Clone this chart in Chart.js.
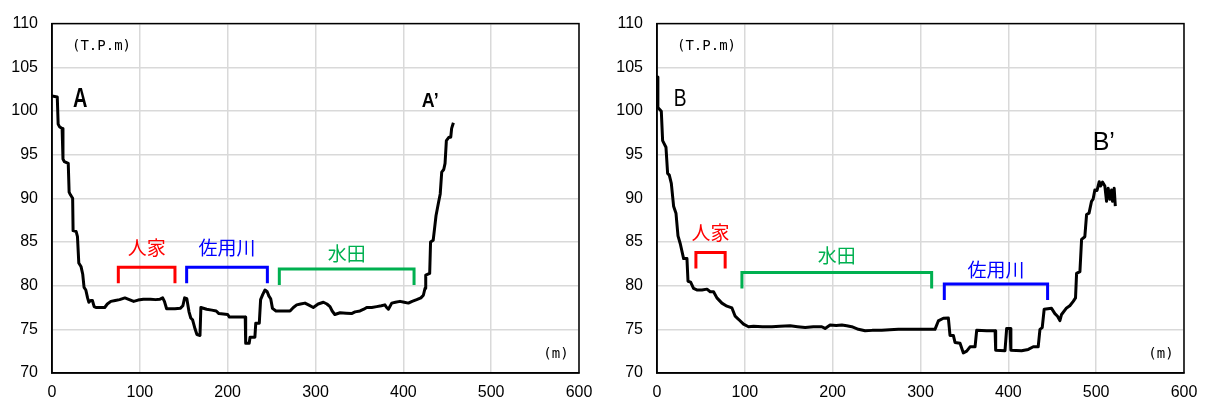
<!DOCTYPE html>
<html>
<head>
<meta charset="utf-8">
<script src="https://cdn.jsdelivr.net/npm/chart.js@4.4.1/dist/chart.umd.min.js"></script>
<style>
  html, body { margin: 0; padding: 0; background: #fff; }
  .wrap { position: absolute; top: 0; width: 605px; height: 408px; }
</style>
</head>
<body>
<div class="wrap" style="left:0"><canvas id="chartA" width="605" height="408"></canvas></div>
<div class="wrap" style="left:605px"><canvas id="chartB" width="605" height="408"></canvas></div>
<script>
// profile A - A'  (distance m, elevation T.P.m)
const distA = [0, 6, 7, 8.5, 11.5, 12.5, 14, 18.5, 19.5, 21, 23.5, 24, 27.5, 29, 30.5, 33, 35, 36.5, 38.5, 40.5,
  42, 44, 46, 48, 50, 60, 63, 67, 72, 77, 83, 88, 93, 98, 104, 112, 118, 123, 126, 128,
  130.5, 140, 146, 149, 151, 153.5, 156, 158, 160, 163, 165, 168.5, 169.5, 176, 182, 187, 190, 200, 202, 220,
  220.5, 224.5, 225.5, 231, 232, 236, 237.5, 240, 242.5, 245, 247, 249, 251, 255, 262, 271, 274.8, 278.6, 283, 288,
  292, 297.5, 303, 309, 313, 316.5, 319, 322, 328, 335, 341, 345, 350.7, 355, 358.3, 364, 369.7, 375, 379, 381,
  383, 386.8, 391, 396.2, 401, 405.7, 410, 415.2, 420, 422.8, 424.7, 425.5, 430, 431, 434, 435.5, 437.2, 440, 442, 443.7,
  446, 447.5, 449, 452, 454, 455, 457];
const elevA = [101.7, 101.6, 98.5, 98.2, 98.0, 94.5, 94.2, 94.0, 90.7, 90.4, 90.0, 86.3, 86.2, 85.6, 82.6, 82.2, 81.3, 79.8, 79.5, 78.6,
  78.1, 78.3, 78.3, 77.6, 77.5, 77.5, 77.9, 78.2, 78.3, 78.4, 78.6, 78.4, 78.2, 78.35, 78.45, 78.45, 78.4, 78.45, 78.6, 78.2,
  77.35, 77.35, 77.4, 77.7, 78.6, 78.5, 77.0, 76.3, 76.1, 75.0, 74.4, 74.3, 77.5, 77.3, 77.2, 77.1, 76.8, 76.7, 76.4, 76.4,
  73.4, 73.4, 74.1, 74.1, 75.7, 75.7, 78.4, 79.0, 79.5, 79.3, 78.8, 78.5, 77.4, 77.1, 77.1, 77.1, 77.5, 77.8, 77.9, 78.0,
  77.8, 77.5, 77.9, 78.1, 77.9, 77.6, 77.1, 76.7, 76.9, 76.85, 76.8, 77.0, 77.1, 77.3, 77.5, 77.5, 77.6, 77.7, 77.8, 77.5,
  77.3, 78.0, 78.1, 78.2, 78.1, 78.0, 78.2, 78.4, 78.6, 78.9, 79.7, 81.2, 81.4, 85.0, 85.2, 86.5, 88.0, 89.5, 90.5, 93.0,
  93.3, 94.0, 96.6, 97.0, 97.0, 98.0, 98.65];

// profile B - B'
const distB = [0.5, 1, 4.9, 6.4, 10.2, 12.1, 14, 16.3, 18.9, 21.6, 23.9, 26.5, 30.3, 34.1, 35.3, 38.3, 41.6, 46, 51.2, 56.9,
  60.6, 64.4, 68.2, 73.9, 79.6, 85.3, 89, 92.8, 98.5, 104.2, 109.9, 120, 130.8, 140, 151.6, 160, 168.7, 178, 187.6, 191.4,
  197.1, 204, 210.4, 216, 221.7, 229.3, 236.9, 245, 255.8, 265, 274.8, 282.4, 300, 316.5, 320.3, 326, 331.7, 333.6, 337.4, 339.3,
  345, 348.8, 352.6, 356.4, 362.1, 364, 375.4, 384.9, 385.6, 396.2, 398.1, 401.9, 402.9, 415.1, 422.7, 428.4, 434, 436, 438.6, 440.8,
  449.2, 453, 456, 458.7, 460.6, 466.3, 470, 473.9, 476.5, 477.7, 481.5, 483.4, 487.1, 489.1, 491.9, 494.7, 496.5, 498.5, 501, 503.5,
  505, 507.2, 509.9, 511.8, 513.7, 515.6, 517.5, 518.6, 520.5, 521.8];
const elevB = [103.9, 100.4, 99.96, 96.6, 95.85, 92.85, 92.65, 91.7, 89.1, 88.3, 85.7, 84.8, 83.1, 83.1, 80.5, 80.4, 79.7, 79.5, 79.5, 79.6,
  79.3, 79.3, 78.6, 78.0, 77.65, 77.45, 76.5, 76.15, 75.6, 75.3, 75.35, 75.3, 75.3, 75.35, 75.4, 75.3, 75.2, 75.3, 75.3, 75.1,
  75.5, 75.45, 75.5, 75.4, 75.3, 75.0, 74.84, 74.88, 74.9, 74.95, 75.0, 75.0, 75.0, 75.0, 75.96, 76.27, 76.3, 74.3, 74.3, 73.5,
  73.4, 72.3, 72.5, 73.0, 73.0, 74.9, 74.85, 74.85, 72.6, 72.55, 75.1, 75.1, 72.6, 72.55, 72.7, 73.0, 73.0, 75.0, 75.2, 77.3,
  77.4, 76.8, 76.5, 76.0, 76.7, 77.45, 77.7, 78.2, 78.6, 81.4, 81.6, 85.3, 85.6, 88.15, 88.3, 89.65, 89.9, 90.96, 90.9, 91.9,
  91.4, 91.85, 91.4, 89.65, 91.15, 89.9, 90.96, 89.65, 91.15, 89.1];

// axes
const xTicks = [0, 100, 200, 300, 400, 500, 600];
const yTicks = [70, 75, 80, 85, 90, 95, 100, 105, 110];

// land-use brackets [label, from, to] in metres
const zonesA = [["人家", 75.5, 140], ["佐用川", 153.3, 245.2], ["水田", 258.8, 412.2]];
const zonesB = [["人家", 44.3, 77.6], ["水田", 96.7, 312.7], ["佐用川", 327.1, 444.7]];
const zoneColors = { "人家": "#ff0000", "佐用川": "#0000ff", "水田": "#00b050" };

// bracket heights (elevation of top line) and label elevations
const zoneTopA = [82.1, 82.1, 81.9];
const zoneTopB = [83.8, 81.5, 80.2];
const zoneLabelYA = [84.3, 84.3, 83.6];
const zoneLabelYB = [86.0, 83.4, 81.8];

// section end marks [text, distance, elevation, font, horizontal squeeze]
const endLabelsA = [["A", 24, 100.5, "bold 27px 'Liberation Sans'", 0.74],
                    ["A’", 421, 100.4, "bold 21px 'Liberation Sans'", 0.85]];
const endLabelsB = [["B", 19, 100.6, "24px 'Liberation Sans'", 0.8],
                    ["B’", 496, 95.5, "25px 'Liberation Sans'", 1.0]];

const tickFont = { family: "'Liberation Sans', Arial, sans-serif", size: 16 };

// frame + annotations
const profilePlugin = {
  id: "profileDeco",
  afterDatasetsDraw(chart, args, opts) {
    const ctx = chart.ctx;
    const xs = chart.scales.x, ys = chart.scales.y;
    const a = chart.chartArea;
    ctx.save();

    // brackets
    opts.zones.forEach((z, i) => {
      const [label, from, to] = z;
      const x1 = xs.getPixelForValue(from), x2 = xs.getPixelForValue(to);
      const yt = ys.getPixelForValue(opts.tops[i]);
      const yb = yt + 16;
      ctx.strokeStyle = zoneColors[label];
      ctx.lineWidth = 3;
      ctx.lineCap = "butt";
      ctx.lineJoin = "miter";
      ctx.beginPath();
      ctx.moveTo(x1, yb);
      ctx.lineTo(x1, yt);
      ctx.lineTo(x2, yt);
      ctx.lineTo(x2, yb);
      ctx.stroke();

      ctx.fillStyle = zoneColors[label];
      ctx.font = "19px 'Noto Sans CJK JP'";
      ctx.textAlign = "center";
      ctx.textBaseline = "middle";
      ctx.fillText(label, (x1 + x2) / 2, ys.getPixelForValue(opts.labelYs[i]));
    });

    // A, A', B, B'
    ctx.fillStyle = "#000";
    ctx.textAlign = "left";
    ctx.textBaseline = "alphabetic";
    opts.ends.forEach(([t, x, y, f, sq]) => {
      ctx.save();
      ctx.font = f;
      ctx.translate(xs.getPixelForValue(x), ys.getPixelForValue(y));
      ctx.scale(sq, 1);
      ctx.fillText(t, 0, 0);
      ctx.restore();
    });

    // units
    ctx.font = "14px 'DejaVu Sans Mono', monospace";
    ctx.textBaseline = "middle";
    ctx.textAlign = "left";
    ctx.fillText("(T.P.m)", a.left + 20, a.top + 23);
    ctx.textAlign = "center";
    ctx.fillText("(m)", a.right - 23, a.bottom - 19);

    // plot frame
    ctx.strokeStyle = "#000";
    ctx.lineWidth = 1.5;
    ctx.strokeRect(a.left, a.top, a.right - a.left, a.bottom - a.top);
    ctx.restore();
  }
};

function drawProfile(canvasId, dist, elev, zones, tops, labelYs, ends) {
  const ctx = document.getElementById(canvasId).getContext("2d");
  const points = dist.map((d, i) => ({ x: d, y: elev[i] }));

  return new Chart(ctx, {
    type: "line",
    data: {
      datasets: [{
        data: points,
        borderColor: "#000",
        borderWidth: 3,
        pointRadius: 0,
        tension: 0,
        borderJoinStyle: "round",
        fill: false
      }]
    },
    options: {
      responsive: false,
      animation: false,
      layout: { padding: { top: 17, right: 26, left: 0, bottom: 0 } },
      plugins: {
        legend: { display: false },
        tooltip: { enabled: false },
        profileDeco: { zones: zones, tops: tops, labelYs: labelYs, ends: ends }
      },
      scales: {
        x: {
          type: "linear",
          min: xTicks[0],
          max: xTicks[xTicks.length - 1],
          afterBuildTicks: (s) => { s.ticks = xTicks.map(v => ({ value: v })); },
          afterFit: (s) => { s.height = 35; },
          ticks: { color: "#000", font: tickFont, padding: 10, maxRotation: 0 },
          grid: { color: "#d9d9d9", lineWidth: 1.5, drawTicks: false },
          border: { color: "#000", width: 1.5 }
        },
        y: {
          min: yTicks[0],
          max: yTicks[yTicks.length - 1],
          afterBuildTicks: (s) => { s.ticks = yTicks.map(v => ({ value: v })); },
          afterFit: (s) => { s.width = 52; },
          ticks: { color: "#000", font: tickFont, padding: 14 },
          grid: { color: "#d9d9d9", lineWidth: 1.5, drawTicks: false },
          border: { color: "#000", width: 1.5 }
        }
      }
    },
    plugins: [profilePlugin]
  });
}

drawProfile("chartA", distA, elevA, zonesA, zoneTopA, zoneLabelYA, endLabelsA);
drawProfile("chartB", distB, elevB, zonesB, zoneTopB, zoneLabelYB, endLabelsB);
</script>
</body>
</html>
